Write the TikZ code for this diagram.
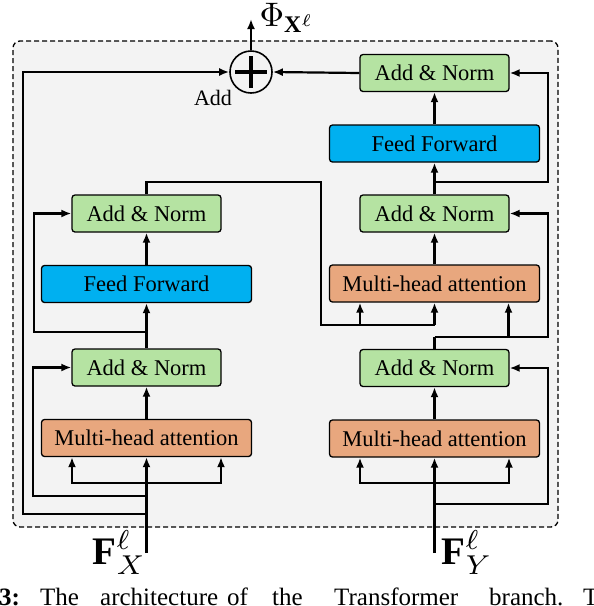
\documentclass[tikz,border=0pt]{standalone}
\usepackage{fontspec}
\setmainfont{Liberation Serif}
\usetikzlibrary{arrows.meta}
\definecolor{bggray}{HTML}{F3F3F3}
\definecolor{angreen}{HTML}{B5E3A2}
\definecolor{ffblue}{HTML}{00B0F0}
\definecolor{mhaorange}{HTML}{E8A77E}
\begin{document}
\begin{tikzpicture}[x=1pt,y=-1pt,
  box/.style={draw, line width=1.3pt, rounded corners=3pt, inner sep=0pt, font=\fontsize{22.5}{27}\selectfont},
  an/.style={box, fill=angreen, minimum width=149pt, minimum height=37pt},
  ffbox/.style={box, fill=ffblue, minimum width=210pt, minimum height=37pt},
  mha/.style={box, fill=mhaorange, minimum width=210pt, minimum height=37pt},
  conn/.style={line width=2.2pt},
  arr/.style={conn, -{Latex[length=10pt,width=8pt]}},
  captxt/.style={anchor=base west, inner sep=0pt, font=\fontsize{25}{30}\selectfont}
]
\useasboundingbox (0,0) rectangle (594,606);
% frame
\node[draw, dashed, dash pattern=on 5pt off 3pt, line width=1.3pt, fill=bggray, rounded corners=7pt,
  minimum width=545pt, minimum height=486pt, inner sep=0pt] (frame) at (285.5,284) {};

% nodes
\node[draw, circle, line width=1.6pt, minimum size=42pt, inner sep=0pt] (plus) at (251,72) {};
\draw[line width=4pt] ([xshift=-16pt]plus.center) -- ([xshift=16pt]plus.center);
\draw[line width=4pt] ([yshift=-16pt]plus.center) -- ([yshift=16pt]plus.center);
\node[inner sep=0pt, font=\fontsize{22}{26}\selectfont] (addlbl) at (213,98) {Add};

\node[an] (rAN3) at (434.5,73) {Add \& Norm};
\node[ffbox] (rFF) at (434.5,143.5) {Feed Forward};
\node[an] (rAN2) at (434.5,213.5) {Add \& Norm};
\node[mha] (rMHA2) at (434.5,283.5) {Multi-head attention};
\node[an] (rAN1) at (434.5,368) {Add \& Norm};
\node[mha] (rMHA1) at (434.5,438.5) {Multi-head attention};

\node[an] (lAN2) at (146.5,213.5) {Add \& Norm};
\node[ffbox] (lFF) at (146.5,284) {Feed Forward};
\node[an] (lAN1) at (146.5,367.5) {Add \& Norm};
\node[mha] (lMHA) at (146.5,438) {Multi-head attention};

% output
\coordinate (outTop) at (251,19);
\draw[arr] (plus.north) -- (outTop);
\node[anchor=base west, inner sep=0pt, scale=3.4] (phi) at (259,26) {$\Phi_{\mathbf{X}^{\ell}}$};

% left branch inputs
\coordinate (fx) at (146.5,553);
\coordinate (lb1) at (146.5,483);
\coordinate (lb2) at (146.5,496);
\coordinate (lb3) at (146.5,514);
\coordinate (lb4) at (146.5,332);
\draw[arr] (fx) -- (lMHA.south);
\draw[arr] (lb1) -| ([xshift=-74.5pt]lMHA.south);
\draw[arr] (lb1) -| ([xshift=74.5pt]lMHA.south);
\draw[arr] (lb2) -- (33,496) |- (lAN1.west);
\draw[arr] (lb3) -- (23,514) |- (plus.west);
\node[anchor=base east, inner sep=0pt, scale=3.9] (FX) at (147,564) {$\mathbf{F}_X^{\ell}$};

\draw[arr] (lMHA.north) -- (lAN1.south);
\draw[arr] (lAN1.north) -- (lFF.south);
\draw[arr] (lb4) -- (34,332) |- (lAN2.west);
\draw[arr] (lFF.north) -- (lAN2.south);

% cross connection
\coordinate (cr1) at (360,325);
\coordinate (cr2) at (434.5,325);
\draw[conn] (lAN2.north) |- (321,182) -- (321,325) -- (cr2);
\draw[arr] (cr1) -- ([xshift=-74.5pt]rMHA2.south);
\draw[arr] (cr2) -- (rMHA2.south);

% right branch
\coordinate (fy) at (434.5,553);
\coordinate (rb1) at (434.5,483);
\coordinate (rb2) at (434.5,504);
\draw[arr] (fy) -- (rMHA1.south);
\draw[arr] (rb1) -| ([xshift=-74.5pt]rMHA1.south);
\draw[arr] (rb1) -| ([xshift=74.5pt]rMHA1.south);
\draw[arr] (rb2) -- (548,504) |- (rAN1.east);
\node[anchor=base west, inner sep=0pt, scale=3.9] (FY) at (441,564) {$\mathbf{F}_Y^{\ell}$};

\draw[arr] (rMHA1.north) -- (rAN1.south);
\coordinate (rc) at (434.5,337);
\coordinate (rc2) at (508.5,337);
\draw[conn] (rAN1.north) -- (rc);
\draw[arr] (rc) -- (548,337) |- (rAN2.east);
\draw[arr] (rc2) -- ([xshift=74pt]rMHA2.south);
\draw[arr] (rMHA2.north) -- (rAN2.south);
\draw[arr] (rAN2.north) -- (rFF.south);
\coordinate (rd) at (434.5,182);
\draw[arr] (rd) -- (548,182) |- (rAN3.east);
\draw[arr] (rFF.north) -- (rAN3.south);
\draw[arr] (rAN3.west) -- (plus.east);

% caption fragment
\node[captxt, font=\fontsize{25}{30}\selectfont\bfseries] (c0) at (-1,605) {3:};
\node[captxt] (c1) at (40,605) {The};
\node[captxt] (c2) at (100,605) {architecture};
\node[captxt] (c3) at (227,605) {of};
\node[captxt] (c4) at (272,605) {the};
\node[captxt] (c5) at (334,605) {Transformer};
\node[captxt] (c6) at (489,605) {branch.};
\node[captxt] (c7) at (583,605) {T};
\end{tikzpicture}
\end{document}
